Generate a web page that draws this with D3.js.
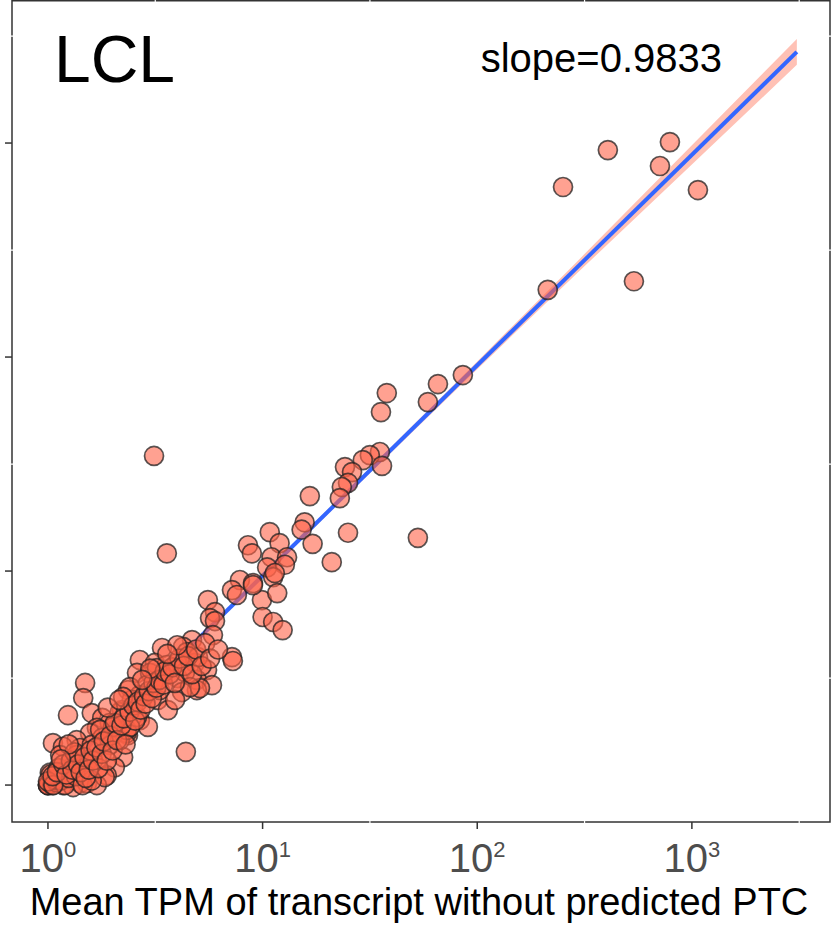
<!DOCTYPE html>
<html>
<head>
<meta charset="utf-8">
<script src="https://cdn.jsdelivr.net/npm/d3@7"></script>
<style>
  html, body { margin: 0; padding: 0; background: #fff; }
  svg { display: block; font-family: "Liberation Sans", Arial, sans-serif; }
</style>
</head>
<body>
<svg id="chart"></svg>
<script>
// mean TPM, transcript without predicted PTC (x)
const tpmNoPTC = [
  790, 406, 710, 1067, 251, 537, 213, 85.7, 65.6, 37.9, 58.9, 35.6, 3.12, 52.9, 3.58, 4.39,
  35.2, 31.6, 29.3, 24.2, 26.1, 36.0, 25.0, 23.4, 22.9, 16.6, 15.7, 15.2, 25.0, 17.1, 21.0, 10.8,
  8.55, 8.91, 12.0, 11.0, 13.0, 10.5, 12.7, 11.2,
  7.84, 9.02, 7.20, 7.59, 9.93, 11.7, 5.56, 6.0, 5.69, 6.0, 10.0, 11.2, 12.4, 5.87, 4.69, 4.26,
  3.40, 4.44, 7.20,
  2.68, 3.15, 3.58, 4.84, 5.51, 7.27, 2.60, 2.99, 3.43, 4.03, 4.94, 5.81, 4.94, 4.21, 2.36, 2.89,
  3.25, 3.62, 2.68, 2.46, 2.21, 2.68, 2.92, 2.36, 2.24,
  1.49, 1.46, 1.24, 1.60, 1.79, 2.16, 1.94, 1.69, 1.57, 2.33, 2.01, 1.79, 1.36, 1.055, 1.175, 1.41,
  1.60, 1.94, 2.16, 2.33, 1.14, 1.36, 1.52, 1.29, 1.69, 2.05, 1.88, 1.02, 1.14, 1.0, 1.02, 1.175,
  1.41, 1.52, 1.31, 1.69,
  9.02, 11.4, 5.0, 3.22, 3.99, 4.35, 5.11, 4.59, 2.41, 2.24, 2.60, 2.41, 2.01, 1.75, 1.84, 3.91, 3.32,
  1.0, 1.0, 1.05, 1.1, 1.08, 1.15, 1.2, 1.25, 1.03, 1.12, 1.35, 1.45, 1.6, 1.0, 1.06,
  1.05, 1.1, 1.18, 1.22, 1.28, 1.3, 1.33, 1.38, 1.42, 1.48, 1.5, 1.55, 1.58, 1.62, 1.68, 1.72,
  1.78, 1.82, 1.88, 1.95, 2.0, 2.05, 2.1, 2.2, 2.25, 2.3, 2.4, 2.5, 2.55, 2.62, 2.7, 2.8,
  2.85, 2.95, 3.05, 3.1, 3.2, 3.3, 3.45, 3.5, 3.7, 3.8, 3.9, 4.1, 4.3, 4.5, 4.7, 4.9,
  5.2, 5.4, 5.7, 6.2, 3.0, 2.75, 4.0, 1.25, 1.15, 1.9, 2.15, 3.6
];
// mean TPM, transcript with predicted PTC (y)
const tpmPTC = [
  1010, 927, 781, 603, 623, 226, 206, 82.4, 74.8, 67.9, 61.6, 55.3, 34.5, 14.3, 12.1, 1.43,
  36.0, 34.8, 33.0, 30.6, 29.0, 31.0, 25.8, 24.7, 21.9, 22.4, 16.9, 15.6, 15.1, 13.4, 11.0, 15.2,
  13.2, 12.1, 13.5, 11.6, 11.6, 10.4, 10.7, 9.37,
  9.08, 8.79, 8.15, 7.73, 7.32, 7.89, 7.32, 6.43, 6.03, 5.84, 6.10, 5.78, 5.30, 5.02, 4.76, 4.42,
  4.37, 4.18, 3.96,
  3.84, 3.72, 3.64, 3.72, 3.45, 3.80, 3.34, 3.34, 3.20, 3.16, 3.10, 2.93, 2.78, 2.72, 2.78, 2.93,
  2.50, 2.24, 2.63, 2.50, 2.24, 2.01, 1.87, 1.71, 1.35,
  3.0, 2.55, 2.12, 2.17, 2.06, 2.19, 1.95, 1.85, 1.75, 1.75, 1.71, 1.66, 1.62, 1.57, 1.51, 1.49,
  1.54, 1.54, 1.62, 1.81, 1.38, 1.38, 1.28, 1.21, 1.31, 1.21, 1.11, 1.14, 1.11, 1.0, 1.02, 1.0,
  1.02, 1.02, 0.979, 1.0,
  8.60, 9.79, 3.96, 3.52, 3.72, 3.37, 2.84, 2.87, 2.87, 2.58, 2.08, 1.87, 1.87, 1.81, 1.09, 2.50, 2.78,
  1.0, 1.0, 1.0, 1.03, 1.06, 1.05, 1.0, 1.08, 1.12, 1.2, 1.1, 1.0, 1.05, 1.04, 1.0,
  1.1, 1.15, 1.25, 1.12, 1.3, 1.18, 1.42, 1.25, 1.15, 1.35, 1.08, 1.18, 1.45, 1.3, 1.5, 1.2,
  1.4, 1.6, 1.3, 1.7, 1.45, 1.95, 1.62, 1.9, 2.05, 1.55, 2.2, 2.35, 2.0, 2.45, 2.25, 2.6,
  2.4, 2.75, 2.55, 3.0, 2.85, 3.1, 2.95, 3.4, 3.3, 3.55, 3.0, 3.9, 3.6, 4.0, 3.3, 4.3,
  3.6, 4.6, 3.9, 4.3, 3.5, 3.1, 4.5, 1.55, 1.32, 2.3, 2.5, 4.1
];

// fitted line on log10 scale and its confidence band
const fitSlope = 0.9833;
const fitIntercept = -0.005;
const fitRange = [1, 3083];
const ciX    = [1, 3, 10, 30, 100, 300, 1000, 3083];
const ciLow  = [0.966, 2.858, 9.29, 27.2, 87.8, 252.8, 794, 2321];
const ciHigh = [1.012, 2.965, 9.73, 28.8, 95.4, 287.5, 977, 3060];

const xTicks = [1, 10, 100, 1000];
const yTicks = [1, 10, 100, 1000];
const minorTicks = [Math.sqrt(10), Math.sqrt(1000), Math.sqrt(100000), Math.sqrt(10000000)];

const width = 837, height = 929;
const margin = {left: 12, right: 7, top: 0, bottom: 107};

const svg = d3.select("#chart")
    .attr("width", width)
    .attr("height", height);

const x = d3.scaleLog()
    .domain([0.68, 4400])
    .range([margin.left, width - margin.right]);
const y = d3.scaleLog()
    .domain([0.672, 4660])
    .range([height - margin.bottom, margin.top]);

const [x0, x1] = x.range();
const [y0, y1] = y.range();

// panel border
svg.append("rect")
    .attr("x", x0).attr("y", y1 + 0.75)
    .attr("width", x1 - x0).attr("height", y0 - y1 - 0.75)
    .attr("fill", "none")
    .attr("stroke", "#333")
    .attr("stroke-width", 1.5);

// white minor grid (only shows where it crosses the border)
const grid = svg.append("g").attr("stroke", "#fff").attr("stroke-width", 1.2);
grid.selectAll(".gx").data(minorTicks).join("line")
    .attr("x1", d => x(d)).attr("x2", d => x(d))
    .attr("y1", y1 - 2).attr("y2", y0 + 2);
grid.selectAll(".gy").data(minorTicks).join("line")
    .attr("y1", d => y(d)).attr("y2", d => y(d))
    .attr("x1", x0 - 2).attr("x2", x1 + 2);

// ticks
svg.append("g").selectAll("line").data(xTicks).join("line")
    .attr("x1", d => x(d)).attr("x2", d => x(d))
    .attr("y1", y0).attr("y2", y0 + 7)
    .attr("stroke", "#333").attr("stroke-width", 1.5);
svg.append("g").selectAll("line").data(yTicks).join("line")
    .attr("y1", d => y(d)).attr("y2", d => y(d))
    .attr("x1", x0).attr("x2", x0 - 7)
    .attr("stroke", "#333").attr("stroke-width", 1.5);

// x tick labels 10^n
svg.append("g").selectAll("text").data(xTicks).join("text")
    .attr("x", d => x(d))
    .attr("y", y0 + 50)
    .attr("text-anchor", "middle")
    .attr("fill", "#4d4d4d")
    .style("font-size", "40px")
    .each(function (d) {
        const t = d3.select(this);
        t.append("tspan").text("10");
        t.append("tspan").attr("dy", -15).style("font-size", "22px").text(Math.round(Math.log10(d)));
    });

// x title
svg.append("text")
    .attr("x", (x0 + x1) / 2 - 2)
    .attr("y", 915)
    .attr("text-anchor", "middle")
    .attr("fill", "#000")
    .style("font-size", "38px")
    .text("Mean TPM of transcript without predicted PTC");

// confidence band
const band = d3.area()
    .x((d, i) => x(ciX[i]))
    .y0((d, i) => y(ciLow[i]))
    .y1((d, i) => y(ciHigh[i]));
svg.append("path")
    .attr("d", band(ciX))
    .attr("fill", "#ff6347")
    .attr("fill-opacity", 0.4);

// regression line (drawn under the points)
const fitLine = d3.line()
    .x(d => x(d))
    .y(d => y(Math.pow(10, fitIntercept + fitSlope * Math.log10(d))));
svg.append("path")
    .attr("d", fitLine(fitRange))
    .attr("fill", "none")
    .attr("stroke", "#3366ff")
    .attr("stroke-width", 4);

// points
const points = tpmNoPTC.map((d, i) => [d, tpmPTC[i]]);
svg.append("g").selectAll("circle").data(points).join("circle")
    .attr("cx", d => x(d[0]))
    .attr("cy", d => y(d[1]))
    .attr("r", 9.5)
    .attr("fill", "#ff6347")
    .attr("fill-opacity", 0.6)
    .attr("stroke", "#222")
    .attr("stroke-opacity", 0.75)
    .attr("stroke-width", 1.7);

// annotations
svg.append("text")
    .attr("x", 54).attr("y", 82)
    .style("font-size", "66px")
    .text("LCL");
svg.append("text")
    .attr("x", 722).attr("y", 72)
    .attr("text-anchor", "end")
    .style("font-size", "40px")
    .text("slope=0.9833");
</script>
</body>
</html>
